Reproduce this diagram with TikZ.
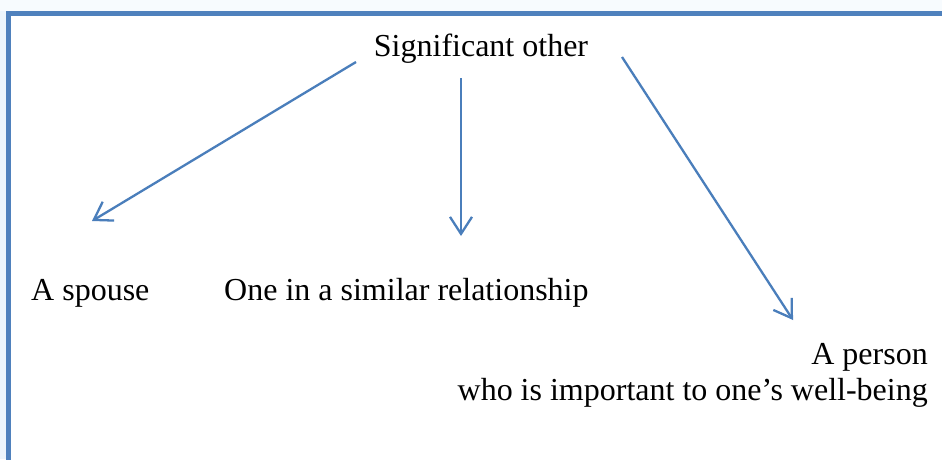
\documentclass[tikz,border=0pt]{standalone}
\usepackage{fontspec}
\setmainfont{Liberation Serif}
\usetikzlibrary{arrows.meta}
\definecolor{frameblue}{HTML}{4F81BD}
\definecolor{arrowblue}{HTML}{4A7EBB}
\definecolor{bgblue}{HTML}{ECF5FC}
\tikzset{
  lbl/.style={inner sep=0pt, font=\fontsize{32}{36}\selectfont},
  conn/.style={draw=arrowblue, line width=2.3pt, -{Straight Barb[length=17pt,width=22pt,line width=2.3pt]}}
}
\begin{document}
\begin{tikzpicture}[x=1pt,y=-1pt]
\useasboundingbox (0,0) rectangle (942,459);
\fill[bgblue] (0,0) rectangle (942,459);
\fill[white!60!bgblue] (0,0) rectangle (942,11);
\fill[draw=frameblue, fill=white, line width=5pt] (8.5,13.5) rectangle (960,480);
% texts
\node[lbl, anchor=base] (sig) at (481,56) {Significant other};
\node[lbl, anchor=base west] (spouse) at (31,300) {A spouse};
\node[lbl, anchor=base west] (similar) at (224,300) {One in a similar relationship};
\node[lbl, anchor=base east, align=right] (person) at (928,400) {A person\\who is important to one’s well-being};
% connector ends
\coordinate (s1) at (356,62);
\coordinate (e1) at (92,221);
\coordinate (s2) at (461,78);
\coordinate (e2) at (461,236);
\coordinate (s3) at (622,57);
\coordinate (e3) at (793,320);
\draw[conn] (s1) -- (e1);
\draw[conn] (s2) -- (e2);
\draw[conn] (s3) -- (e3);
\end{tikzpicture}
\end{document}
